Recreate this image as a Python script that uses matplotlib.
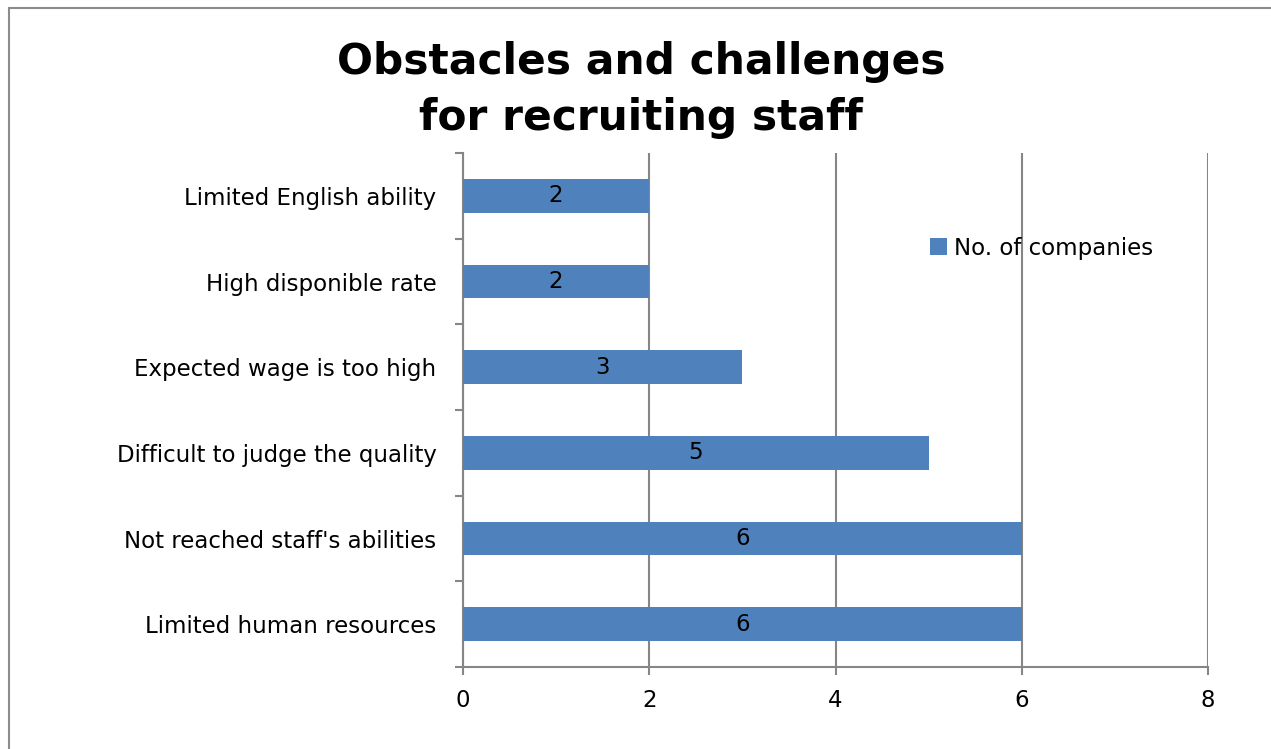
#!/usr/bin/env python3
import matplotlib

matplotlib.use("Agg")
import matplotlib.pyplot as plt
import numpy as np
from matplotlib.patches import Rectangle

# bottom-to-top order, as drawn on the y axis
categories = [
    "Limited human resources",
    "Not reached staff's abilities",
    "Difficult to judge the quality",
    "Expected wage is too high",
    "High disponible rate",
    "Limited English ability",
]
companies = [6, 6, 5, 3, 2, 2]
x_ticks = [0, 2, 4, 6, 8]
title_lines = ["Obstacles and challenges", "for recruiting staff"]

BAR_COLOR = "#4F81BD"
GRID_COLOR = "#868686"
FS = 16.5

plt.rcParams["font.family"] = ["DejaVu Sans"]

fig = plt.figure(figsize=(12.71, 7.49), dpi=100)
W, H = 1271, 749
ax = fig.add_axes([463 / W, 1 - 667 / H, (1208 - 463) / W, (667 - 153) / H])

# outer chart frame (runs off the right and bottom edges)
fig.patches.append(
    Rectangle((9 / W, -0.05), 1.2, 1 - 8 / H + 0.05, transform=fig.transFigure,
              fill=False, edgecolor="#8c8c8c", linewidth=1.5)
)

y = np.arange(len(categories))
bars = ax.barh(y, companies, height=0.39, color=BAR_COLOR, label="No. of companies", zorder=3)
for bar, val in zip(bars, companies):
    ax.text(bar.get_width() / 2, bar.get_y() + bar.get_height() / 2, str(val),
            ha="center", va="center", fontsize=FS, color="black", zorder=4)

ax.set_xlim(0, 8)
ax.set_ylim(-0.5, len(categories) - 0.5)
ax.set_xticks(x_ticks)
ax.set_xticklabels([str(t) for t in x_ticks], fontsize=FS)
ax.set_yticks(y)
ax.set_yticklabels(categories, fontsize=FS)
ax.tick_params(axis="y", length=0, pad=19)
ax.set_yticks(np.arange(-0.5, len(categories)), minor=True)
ax.tick_params(axis="y", which="minor", length=6, width=1.5, color=GRID_COLOR, direction="out")
ax.tick_params(axis="x", length=6, width=1.5, color=GRID_COLOR, pad=10)

ax.grid(axis="x", color=GRID_COLOR, linewidth=1.5, zorder=0)
for side in ("top", "right"):
    ax.spines[side].set_visible(False)
for side in ("left", "bottom"):
    ax.spines[side].set_color(GRID_COLOR)
    ax.spines[side].set_linewidth(1.5)

ax.legend(loc="center left", bbox_to_anchor=((930 - 463) / (1208 - 463), 1 - (248 - 153) / (667 - 153)),
          frameon=False, fontsize=FS, handlelength=0.75, handleheight=0.75,
          handletextpad=0.3, borderpad=0, borderaxespad=0)

for line, ypix in zip(title_lines, (62, 118)):
    fig.text(641 / W, 1 - ypix / H, line, ha="center", va="center",
             fontsize=30.5, fontweight="bold")

fig.savefig("out.png", dpi=100)
